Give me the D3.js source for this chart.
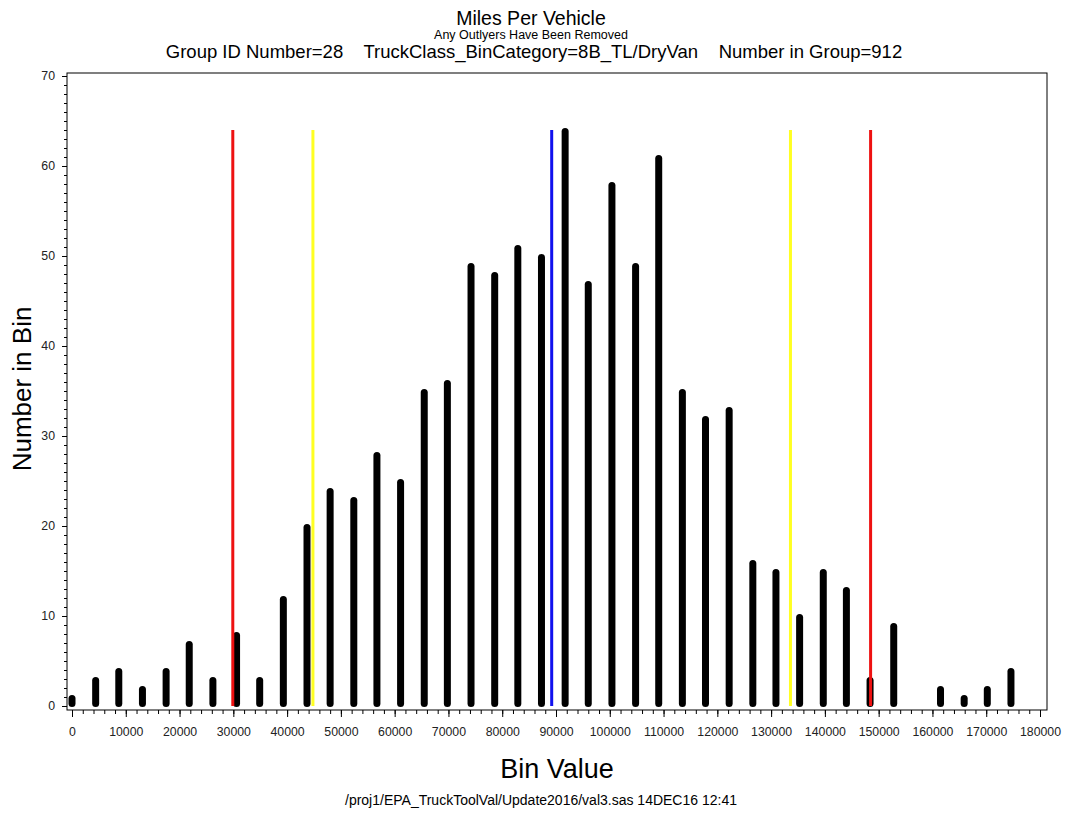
<!DOCTYPE html>
<html>
<head>
<meta charset="utf-8">
<script src="https://cdn.jsdelivr.net/npm/d3@7"></script>
<style>
  body { margin: 0; background: #fff; }
  svg text { font-family: "Liberation Sans", Arial, sans-serif; fill: #000; }
  .axis path, .axis line { stroke: #000; }
  .axis text { font-size: 12.3px; fill: #222; }
</style>
</head>
<body>
<div id="chart"></div>
<script>
// bin values (x) and counts
const binValues = [0, 4400, 8700, 13100, 17500, 21800, 26200, 30600, 34900, 39300,
  43700, 48000, 52400, 56700, 61100, 65500, 69800, 74200, 78600, 82900,
  87300, 91700, 96000, 100400, 104800, 109100, 113500, 117800, 122200, 126600,
  130900, 135300, 139700, 144000, 148400, 152800, 157100, 161500, 165900, 170200, 174600]
const binCounts = [1, 3, 4, 2, 4, 7, 3, 8, 3, 12,
  20, 24, 23, 28, 25, 35, 36, 49, 48, 51,
  50, 64, 47, 58, 49, 61, 35, 32, 33, 16,
  15, 10, 15, 13, 3, 9, 0, 2, 1, 2, 4]

// reference lines: mean, +-1.5 sd, +-2 sd
const refLines = [29900, 44800, 89200, 133600, 148500]
const refColors = ["#ee1111", "#ffff22", "#1111ee", "#ffff22", "#ee1111"]
const refTop = 64

const xTicks = [0, 10000, 20000, 30000, 40000, 50000, 60000, 70000, 80000, 90000,
  100000, 110000, 120000, 130000, 140000, 150000, 160000, 170000, 180000]
const yTicks = [0, 10, 20, 30, 40, 50, 60, 70]

const width = 1068
const height = 813
const frame = {left: 67, right: 1047, top: 73, bottom: 710}

const svg = d3.select("#chart").append("svg")
    .attr("width", width).attr("height", height)

const x = d3.scaleLinear().domain([0, 180000]).range([72, 1040])
const y = d3.scaleLinear().domain([0, 70]).range([706, 76])

// frame
svg.append("rect")
    .attr("x", frame.left).attr("y", frame.top)
    .attr("width", frame.right - frame.left)
    .attr("height", frame.bottom - frame.top)
    .attr("fill", "none").attr("stroke", "#000").attr("stroke-width", 1)

// x axis, major + minor ticks
const xMinor = svg.append("g").attr("class", "axis")
    .attr("transform", `translate(0,${frame.bottom})`)
    .call(d3.axisBottom(x).tickValues(x.ticks(90)).tickSize(4).tickFormat(""))
xMinor.select(".domain").remove()
const xAxisGroup = svg.append("g").attr("class", "axis")
    .attr("transform", `translate(0,${frame.bottom})`)
    .call(d3.axisBottom(x).tickValues(xTicks).tickSize(7).tickPadding(10).tickFormat(d3.format("d")))
xAxisGroup.select(".domain").remove()

// y axis
const yMinor = svg.append("g").attr("class", "axis")
    .attr("transform", `translate(${frame.left},0)`)
    .call(d3.axisLeft(y).tickValues(y.ticks(70)).tickSize(3).tickFormat(""))
yMinor.select(".domain").remove()
const yAxisGroup = svg.append("g").attr("class", "axis")
    .attr("transform", `translate(${frame.left},0)`)
    .call(d3.axisLeft(y).tickValues(yTicks).tickSize(5).tickPadding(7))
yAxisGroup.select(".domain").remove()

// bars
const bins = binValues.map((v, i) => ({bin: v, count: binCounts[i]})).filter(d => d.count > 0)
svg.append("g").selectAll("rect").data(bins)
    .join("rect")
    .attr("x", d => x(d.bin) - 3.5)
    .attr("width", 7)
    .attr("y", d => y(d.count) - 2)
    .attr("height", d => y(0) - y(d.count) + 3)
    .attr("rx", 3.5)
    .attr("fill", "#000")

// reference lines on top
svg.append("g").selectAll("line").data(refLines)
    .join("line")
    .attr("x1", d => x(d)).attr("x2", d => x(d))
    .attr("y1", y(0)).attr("y2", y(refTop))
    .attr("stroke", (d, i) => refColors[i])
    .attr("stroke-width", 3)

// titles
svg.append("text").attr("x", 531).attr("y", 25)
    .attr("text-anchor", "middle").attr("font-size", 19.5).text("Miles Per Vehicle")
svg.append("text").attr("x", 531).attr("y", 39)
    .attr("text-anchor", "middle").attr("font-size", 12.5).text("Any Outlyers Have Been Removed")
svg.append("text").attr("x", 534).attr("y", 58)
    .attr("text-anchor", "middle").attr("font-size", 18.5)
    .attr("xml:space", "preserve")
    .text("Group ID Number=28    TruckClass_BinCategory=8B_TL/DryVan    Number in Group=912")

// axis labels
svg.append("text").attr("transform", "translate(31,389) rotate(-90)")
    .attr("text-anchor", "middle").attr("font-size", 26).text("Number in Bin")
svg.append("text").attr("x", 557).attr("y", 778)
    .attr("text-anchor", "middle").attr("font-size", 27).text("Bin Value")
svg.append("text").attr("x", 541).attr("y", 805)
    .attr("text-anchor", "middle").attr("font-size", 14)
    .text("/proj1/EPA_TruckToolVal/Update2016/val3.sas 14DEC16 12:41")
</script>
</body>
</html>
